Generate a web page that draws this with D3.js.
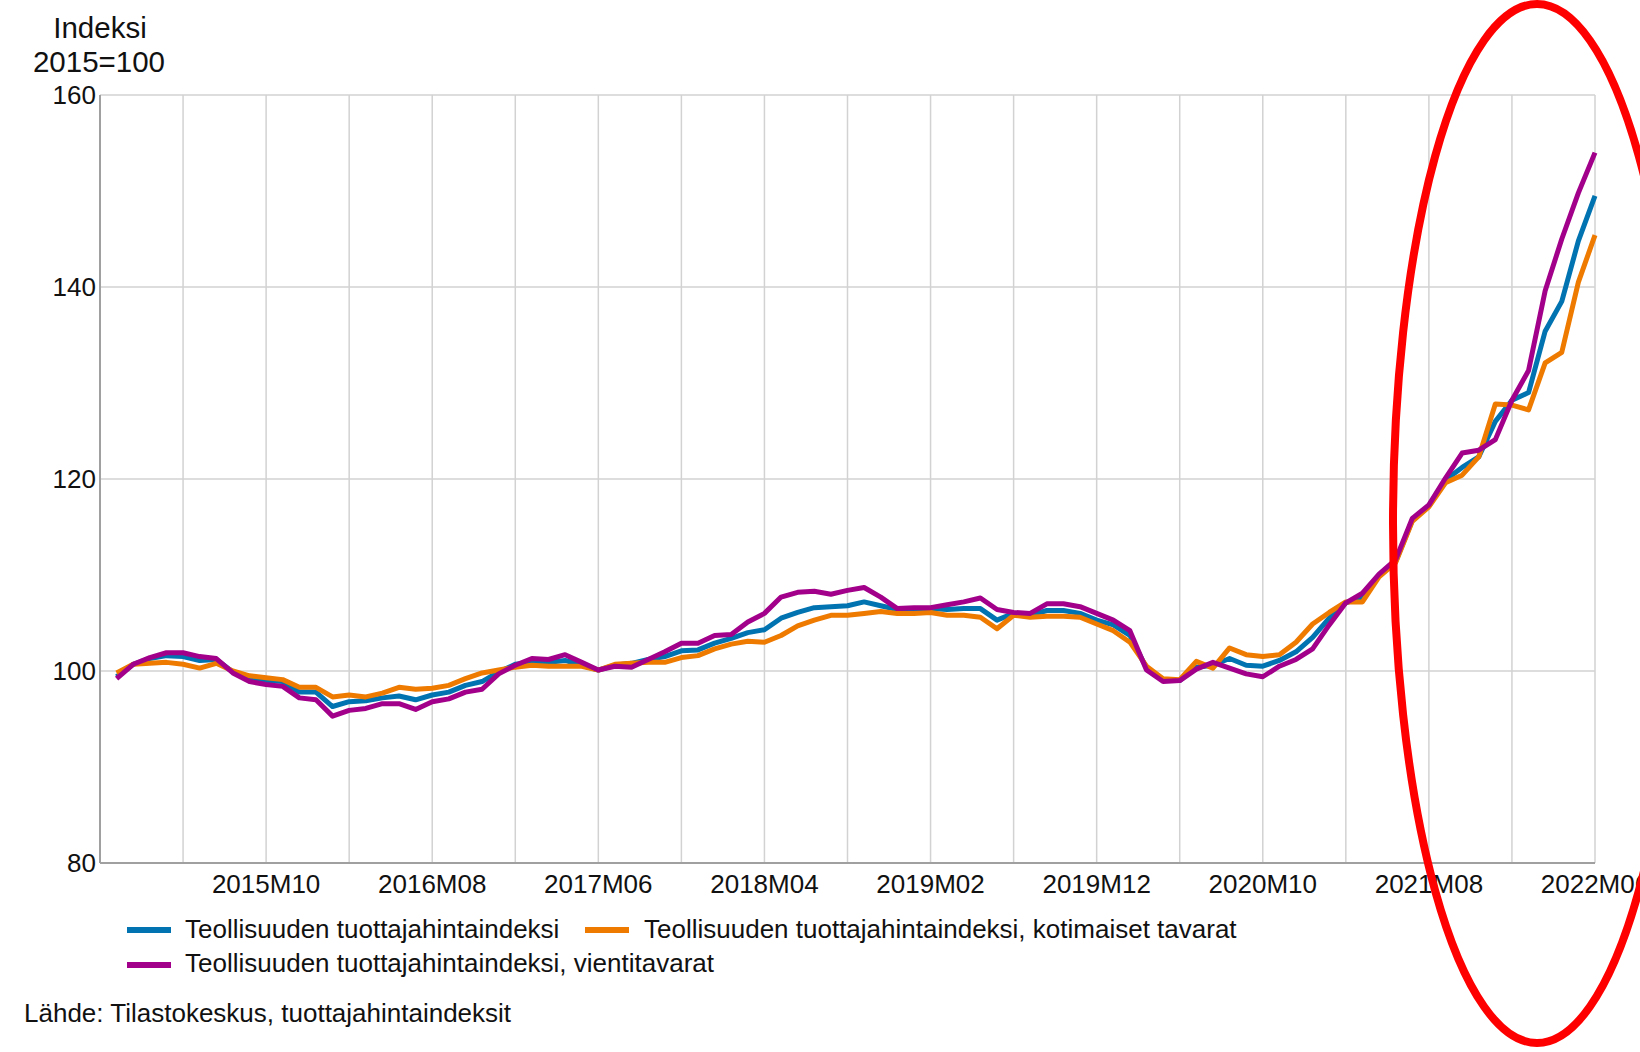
<!DOCTYPE html>
<html>
<head>
<meta charset="utf-8">
<script src="https://cdn.jsdelivr.net/npm/d3@7"></script>
<style>
  body { margin: 0; background: #fff; }
  svg { display: block; font-family: "Liberation Sans", Arial, sans-serif; }
</style>
</head>
<body>
<div id="chart"></div>
<script>
// Months 2015M01 .. 2022M06
const startYear = 2015;
const monthCount = 90;
const months = d3.range(monthCount).map(i =>
    `${startYear + Math.floor(i / 12)}M${String(i % 12 + 1).padStart(2, '0')}`);

// Teollisuuden tuottajahintaindeksi
const totalIndex = [
    99.4, 100.7, 101.3, 101.6, 101.5, 101.1, 101.2, 99.9, 99.2, 99.0,
    98.9, 97.8, 97.8, 96.3, 96.8, 96.9, 97.2, 97.4, 97.0, 97.5,
    97.8, 98.5, 98.9, 99.9, 100.7, 100.9, 100.9, 101.1, 100.6, 100.1,
    100.6, 100.8, 101.2, 101.5, 102.1, 102.2, 102.9, 103.4, 104.0, 104.3,
    105.5, 106.1, 106.6, 106.7, 106.8, 107.2, 106.8, 106.4, 106.4, 106.5,
    106.4, 106.5, 106.5, 105.3, 106.0, 105.8, 106.3, 106.3, 106.0, 105.3,
    104.8, 103.7, 100.3, 99.0, 99.0, 100.4, 100.6, 101.3, 100.6, 100.5,
    101.1, 102.0, 103.5, 105.5, 107.1, 107.7, 110.0, 111.4, 115.7, 117.2,
    119.9, 121.2, 122.3, 126.0, 128.2, 129.0, 135.4, 138.5, 144.8, 149.5
];

// ..., kotimaiset tavarat
const domesticIndex = [
    99.8, 100.7, 100.8, 100.9, 100.7, 100.3, 100.8, 100.0, 99.5, 99.3,
    99.1, 98.3, 98.3, 97.3, 97.5, 97.3, 97.7, 98.3, 98.1, 98.2,
    98.5, 99.2, 99.8, 100.1, 100.4, 100.6, 100.5, 100.5, 100.5, 100.1,
    100.7, 100.8, 100.9, 100.9, 101.4, 101.6, 102.3, 102.8, 103.1, 103.0,
    103.7, 104.7, 105.3, 105.8, 105.8, 106.0, 106.2, 106.0, 106.0, 106.1,
    105.8, 105.8, 105.6, 104.4, 105.8, 105.6, 105.7, 105.7, 105.6, 104.9,
    104.2, 103.0, 100.5, 99.2, 99.1, 101.0, 100.3, 102.4, 101.7, 101.5,
    101.7, 103.0, 104.9, 106.1, 107.2, 107.2, 109.8, 111.3, 115.6, 117.1,
    119.6, 120.4, 122.3, 127.8, 127.7, 127.2, 132.1, 133.2, 140.5, 145.4
];

// ..., vientitavarat
const exportIndex = [
    99.2, 100.7, 101.4, 101.9, 101.9, 101.5, 101.3, 99.8, 98.9, 98.6,
    98.4, 97.2, 97.0, 95.3, 95.9, 96.1, 96.6, 96.6, 96.0, 96.8,
    97.1, 97.8, 98.1, 99.7, 100.6, 101.3, 101.2, 101.7, 100.9, 100.1,
    100.5, 100.4, 101.2, 102.0, 102.9, 102.9, 103.7, 103.8, 105.1, 106.0,
    107.7, 108.2, 108.3, 108.0, 108.4, 108.7, 107.7, 106.5, 106.6, 106.6,
    106.9, 107.2, 107.6, 106.4, 106.1, 106.0, 107.0, 107.0, 106.7, 106.0,
    105.3, 104.2, 100.1, 98.9, 99.0, 100.2, 100.9, 100.3, 99.7, 99.4,
    100.5, 101.2, 102.3, 104.8, 107.1, 108.1, 110.1, 111.6, 115.9, 117.3,
    120.1, 122.7, 123.0, 124.1, 128.2, 131.3, 139.6, 145.0, 149.8, 154.0
];

const seriesNames = [
    'Teollisuuden tuottajahintaindeksi',
    'Teollisuuden tuottajahintaindeksi, kotimaiset tavarat',
    'Teollisuuden tuottajahintaindeksi, vientitavarat'
];
const seriesValues = [totalIndex, domesticIndex, exportIndex];
const seriesColors = ['#0073b0', '#ee7a00', '#a2008a'];

const yTicks = [80, 100, 120, 140, 160];

const width = 1640, height = 1052;
const plot = { left: 100, right: 1595, top: 95, bottom: 863 };

const svg = d3.select('#chart').append('svg')
    .attr('width', width)
    .attr('height', height);

const x = d3.scaleLinear().domain([-1, monthCount - 1]).range([plot.left, plot.right]);
const y = d3.scaleLinear().domain([80, 160]).range([plot.bottom, plot.top]);

// Vertical grid every 5 months, labels every 10
const gridMonths = d3.range(4, monthCount, 5);
const labelMonths = d3.range(9, monthCount, 10);

svg.append('g')
    .selectAll('line')
    .data(gridMonths)
    .join('line')
    .attr('x1', d => x(d)).attr('x2', d => x(d))
    .attr('y1', plot.top).attr('y2', plot.bottom)
    .attr('stroke', '#d2d2d2')
    .attr('stroke-width', 1.5);

svg.append('g')
    .selectAll('line')
    .data(yTicks.filter(d => d !== 80))
    .join('line')
    .attr('x1', plot.left).attr('x2', plot.right)
    .attr('y1', d => y(d)).attr('y2', d => y(d))
    .attr('stroke', '#d2d2d2')
    .attr('stroke-width', 1.5);

// Axis lines
svg.append('line')
    .attr('x1', plot.left).attr('x2', plot.left)
    .attr('y1', plot.top).attr('y2', plot.bottom)
    .attr('stroke', '#a0a0a0').attr('stroke-width', 2);
svg.append('line')
    .attr('x1', plot.left).attr('x2', plot.right)
    .attr('y1', plot.bottom).attr('y2', plot.bottom)
    .attr('stroke', '#a0a0a0').attr('stroke-width', 2);

// Y tick labels
svg.append('g')
    .selectAll('text')
    .data(yTicks)
    .join('text')
    .attr('x', plot.left - 4)
    .attr('y', d => y(d))
    .attr('dy', '0.33em')
    .attr('text-anchor', 'end')
    .attr('fill', '#111')
    .style('font-size', '26px')
    .text(d => d);

// X tick labels
svg.append('g')
    .selectAll('text')
    .data(labelMonths)
    .join('text')
    .attr('x', d => x(d))
    .attr('y', 893)
    .attr('text-anchor', 'middle')
    .attr('fill', '#111')
    .style('font-size', '26px')
    .text(d => months[d]);

// Y title
const title = svg.append('text')
    .attr('text-anchor', 'middle')
    .attr('fill', '#111')
    .style('font-size', '29.5px');
title.append('tspan').attr('x', 100).attr('y', 38).text('Indeksi');
title.append('tspan').attr('x', 99).attr('y', 72).text('2015=100');

// Lines
const line = d3.line()
    .x((d, i) => x(i))
    .y(d => y(d));

svg.append('g')
    .selectAll('path')
    .data(seriesValues)
    .join('path')
    .attr('d', d => line(d))
    .attr('fill', 'none')
    .attr('stroke', (d, i) => seriesColors[i])
    .attr('stroke-width', 5)
    .attr('stroke-linejoin', 'round');

// Legend
const legendItems = [
    { x: 127, y: 930, tx: 185, ty: 938 },
    { x: 585, y: 930, tx: 644, ty: 938 },
    { x: 127, y: 965, tx: 185, ty: 972 }
];
const legend = svg.append('g')
    .selectAll('g')
    .data(seriesNames)
    .join('g');
legend.append('line')
    .attr('x1', (d, i) => legendItems[i].x)
    .attr('x2', (d, i) => legendItems[i].x + 44)
    .attr('y1', (d, i) => legendItems[i].y)
    .attr('y2', (d, i) => legendItems[i].y)
    .attr('stroke', (d, i) => seriesColors[i])
    .attr('stroke-width', 6);
legend.append('text')
    .attr('x', (d, i) => legendItems[i].tx)
    .attr('y', (d, i) => legendItems[i].ty)
    .attr('fill', '#111')
    .style('font-size', '26px')
    .text(d => d);

// Source
svg.append('text')
    .attr('x', 24)
    .attr('y', 1022)
    .attr('fill', '#111')
    .style('font-size', '26px')
    .text('Lähde: Tilastokeskus, tuottajahintaindeksit');

// Red highlight ellipse
svg.append('ellipse')
    .attr('cx', 1537)
    .attr('cy', 523.5)
    .attr('rx', 144)
    .attr('ry', 519.5)
    .attr('fill', 'none')
    .attr('stroke', '#ff0000')
    .attr('stroke-width', 8);
</script>
</body>
</html>
